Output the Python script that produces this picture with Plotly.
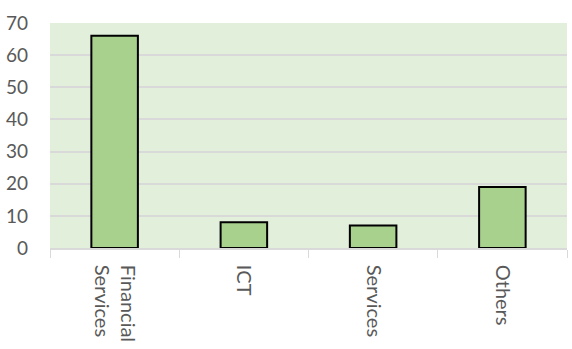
import plotly.graph_objects as go

categories = ["Financial<br>Services", "ICT", "Services", "Others"]
values = [66, 8, 7, 19]
y_ticks = [0, 10, 20, 30, 40, 50, 60, 70]

fig = go.Figure(go.Bar(
    x=categories, y=values,
    marker=dict(color="#A9D18E", line=dict(color="#000000", width=2)),
    width=0.36,
))

fig.update_layout(
    width=572, height=349,
    margin=dict(l=50, r=5, t=23, b=101),
    paper_bgcolor="white",
    plot_bgcolor="#E2EFDA",
    showlegend=False,
    font=dict(family="Lato, Open Sans, sans-serif", size=18, color="#595959"),
)
fig.update_xaxes(
    tickangle=90, showline=True, linecolor="#D9D9D9", linewidth=1.5,
    ticks="outside", tickson="boundaries", ticklen=8, tickcolor="#D9D9D9",
    showgrid=False, tickfont=dict(size=20), ticklabelstandoff=11,
)
fig.update_yaxes(
    range=[0, 70], tickvals=y_ticks, showgrid=True, gridcolor="#D9D9D9",
    gridwidth=1.5, zeroline=False, showline=False, ticks="", tickfont=dict(size=19),
    ticklabelstandoff=21,
)
fig.write_html("out.html")
